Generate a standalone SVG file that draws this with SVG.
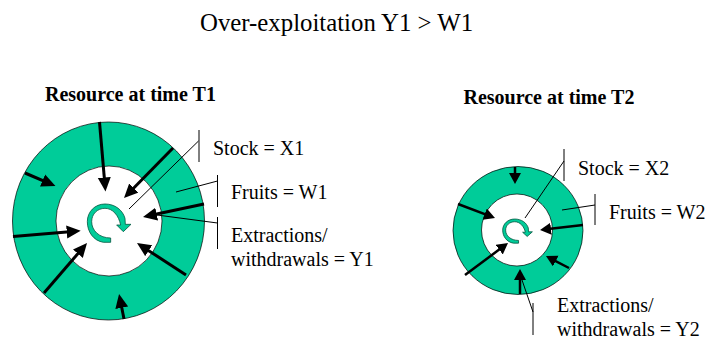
<svg xmlns="http://www.w3.org/2000/svg" width="706" height="340" viewBox="0 0 706 340">
<style>
text{font-family:"Liberation Serif","Times New Roman",serif;fill:#000}
.title{font-size:24.8px}
.head{font-size:20px;font-weight:bold}
.lab{font-size:20px}
.ring{fill:#00cc99;stroke:#000;stroke-width:.7}
.hole{fill:#fff;stroke:#000;stroke-width:.7}
.curl{fill:#00cc99;stroke:#04553f;stroke-width:.8;vector-effect:non-scaling-stroke}
.thick1{fill:none;stroke:#000;stroke-width:3;marker-end:url(#h1)}
.thick2{fill:none;stroke:#000;stroke-width:2.5;marker-end:url(#h2)}
.thin{fill:none;stroke:#000;stroke-width:1}
</style>
<defs>
<marker id="h1" markerUnits="userSpaceOnUse" markerWidth="16" markerHeight="16" refX="6" refY="7" orient="auto"><path d="M0 0.5L14 7L0 13.5z" fill="#000"/></marker>
<marker id="h2" markerUnits="userSpaceOnUse" markerWidth="14" markerHeight="14" refX="5" refY="6" orient="auto"><path d="M0 0L11 6L0 12z" fill="#000"/></marker>
<path id="curlShape" class="curl" d="M122 174L122 187L100 187C70 182 52 155 52 125C52 95 75 72 105 72C135 72 158 90 165 115L166 133L183 133L160 155L140 135L152 135C146 106 128 85 105 85C82 85 65 102 65 125C65 152 88 174 122 174z"/>
</defs>
<text class="title" x="200" y="31">Over-exploitation Y1 &gt; W1</text>
<g id="resource-t1">
<ellipse class="ring" cx="108.500" cy="221" rx="96" ry="99"/>
<ellipse class="hole" cx="109" cy="221" rx="53" ry="55"/>
<use href="#curlShape" transform="translate(70 180) scale(.3333)"/>
<text class="head" x="45" y="100.500">Resource at time T1</text>
</g>
<g id="resource-t2">
<ellipse class="ring" cx="518" cy="230.500" rx="65" ry="64"/>
<ellipse class="hole" cx="517" cy="230" rx="35.500" ry="36"/>
<use href="#curlShape" transform="translate(490.900 203.900) scale(.2267 .21)"/>
<text class="head" x="463.500" y="104">Resource at time T2</text>
</g>
<g id="connectors">
<path class="thick1" d="M99.500 122L104.800 183.500"/>
<path class="thick1" d="M25 173L48.100 182.900"/>
<path class="thick1" d="M13 236.500L72.700 231.400"/>
<path class="thick1" d="M44 293L81.800 249.100"/>
<path class="thick1" d="M124 319L120.600 301.800"/>
<path class="thick1" d="M186 275L143.700 247.400"/>
<path class="thick1" d="M204 204L150.800 215.300"/>
<path class="thick1" d="M173 148L129.600 192.300"/>
<path class="thick2" d="M515 167L515 178"/>
<path class="thick2" d="M458 204L489.400 215.900"/>
<path class="thick2" d="M465 275L503.200 246.600"/>
<path class="thick2" d="M520 294L520 275"/>
<path class="thick2" d="M569 268L551.300 258.800"/>
<path class="thick2" d="M583 225L546 229.300"/>
<path class="thin" d="M199 130V162M198.500 141L129 209"/>
<path class="thin" d="M217.500 175V207M217.500 181L176 192"/>
<path class="thin" d="M217.500 217V249M217.500 223L157 215"/>
<path class="thin" d="M564 149V181M564 161L525 218"/>
<path class="thin" d="M595 194V225M595 205L562 210"/>
<path class="thin" d="M533 303V335M533 312L522 280"/>
</g>
<g id="label-stock-x1"><text class="lab" x="213" y="155">Stock = X1</text></g>
<g id="label-fruits-w1"><text class="lab" x="231" y="199">Fruits = W1</text></g>
<g id="label-extractions-y1"><text class="lab" x="231" y="242">Extractions/</text><text class="lab" x="231" y="266">withdrawals = Y1</text></g>
<g id="label-stock-x2"><text class="lab" x="578" y="175">Stock = X2</text></g>
<g id="label-fruits-w2"><text class="lab" x="609" y="219">Fruits = W2</text></g>
<g id="label-extractions-y2"><text class="lab" x="557" y="312">Extractions/</text><text class="lab" x="557" y="336">withdrawals = Y2</text></g>
</svg>
